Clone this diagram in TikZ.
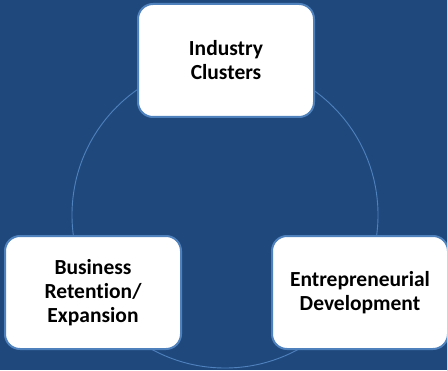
\documentclass[tikz,border=0pt]{standalone}
\usepackage{fontspec}
\setmainfont{Carlito}[Ligatures = NoCommon]
\usetikzlibrary{positioning}
\definecolor{navy}{RGB}{31,73,125}
\definecolor{rim}{RGB}{79,129,189}

\begin{document}
\begin{tikzpicture}[x = 1pt, y = 1pt, font = \fontsize{21.5}{24}\selectfont\bfseries,
  box/.style = {draw = rim, line width = 2pt, fill = white, rounded corners = 15pt, align = center,
    minimum width = 176pt, minimum height = 113pt, inner sep = 0pt}]
  \fill [navy] (0,0) rectangle (447,370);
  \useasboundingbox (0,0) rectangle (447,370);
  \coordinate (hub) at (225,155);
  \draw [rim, line width = 0.9pt] (hub) circle (153);

  \node (clusters) [box] at (226,309.5) {Industry\\Clusters};
  \node (retention) [box, below left = 117pt and -45pt of clusters] {Business\\Retention/\\Expansion};
  \node (development) [box, below right = 117pt and -44pt of clusters] {Entrepreneurial\\Development};
\end{tikzpicture}
\end{document}
